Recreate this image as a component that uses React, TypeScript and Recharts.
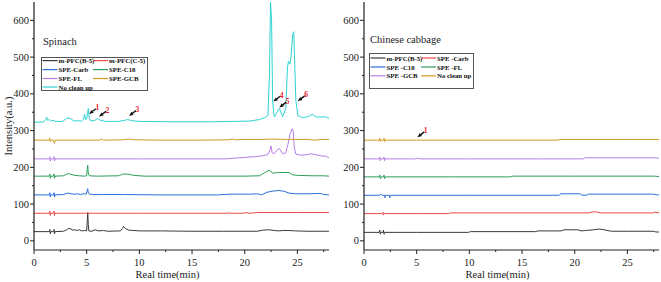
import React from 'react';
import { LineChart, Line, XAxis, YAxis, ReferenceDot, Legend } from 'recharts';

type P = [number, number];

// ---------- axis ticks ----------
const xTicks = [0, 2.5, 5, 7.5, 10, 12.5, 15, 17.5, 20, 22.5, 25, 27.5];
const yTicks = [0, 50, 100, 150, 200, 250, 300, 350, 400, 450, 500, 550, 600];
const xDomain = [0, 28];
const yDomain = [-25, 650];

// ---------- Spinach ----------
const spinachNames = ['m-PFC(B-5)', 'm-PFC(C-5)', 'SPE-Carb', 'SPE-C18', 'SPE-FL', 'SPE-GCB', 'No clean up'];

const spB5: P[] = [[0,25],[1.45,25],[1.5,31],[1.55,19],[1.6,25],[1.85,25],[1.9,31],[1.95,19],[2.0,25],[2.8,26],[3.1,30],[3.3,34],[3.5,32],[3.7,29],[3.9,30],[4.1,28],[4.3,30],[4.5,27],[4.8,28],[5.0,27],[5.05,50],[5.1,77],[5.15,45],[5.2,27],[5.5,26],[5.8,30],[6.1,27],[6.6,28],[7,26],[8.2,27],[8.4,33],[8.5,39],[8.7,33],[9.0,29],[9.5,28],[10,27],[12,27],[15,26],[18,26],[21.2,26],[21.7,29],[22.3,30],[22.8,28],[23.3,27],[23.6,28],[24.2,28],[24.8,27],[26,26],[28,26]];
const spC5: P[] = [[0,75],[1.45,75],[1.5,81],[1.55,69],[1.6,75],[1.85,75],[1.9,81],[1.95,69],[2.0,75],[5,75],[10,75],[15,75],[18.3,75],[18.5,76],[18.7,75],[19.8,75],[20.1,77],[20.4,75],[20.9,76],[21.1,77],[25,77],[28,77]];
const spCarb: P[] = [[0,125],[1.45,125],[1.5,131],[1.55,119],[1.6,125],[1.85,125],[1.9,131],[1.95,119],[2.0,125],[2.8,126],[3.2,130],[3.5,128],[3.8,127],[4.1,128],[4.4,126],[4.7,128],[4.95,127],[5.05,137],[5.1,142],[5.15,130],[5.3,127],[5.6,126],[6.5,126],[8.5,126],[11.5,125],[15,125],[17.5,125],[18.6,127],[20.5,127],[21.2,128],[21.6,125],[22.1,132],[22.6,135],[23.2,137],[23.7,135],[24.2,130],[24.8,128],[26,128],[27.2,129],[27.5,126],[28,125]];
const spC18: P[] = [[0,176],[1.45,176],[1.5,182],[1.55,170],[1.6,176],[1.85,176],[1.9,182],[1.95,170],[2.0,176],[2.8,177],[3.2,183],[3.5,181],[3.9,178],[4.3,177],[4.8,176],[5.0,177],[5.05,195],[5.1,206],[5.15,185],[5.25,177],[6,176],[8.0,177],[8.5,182],[9.0,181],[9.5,178],[10.5,176],[15,176],[20,176],[21.4,177],[22.0,187],[22.3,192],[22.7,184],[23.2,186],[23.7,186],[24.2,186],[24.5,180],[25,178],[26.5,177],[27.5,177],[28,176]];
const spFL: P[] = [[0,223],[1.45,223],[1.5,229],[1.55,217],[1.6,223],[1.85,223],[1.9,229],[1.95,217],[2.0,223],[10,223],[18.2,223],[19,225],[20,227],[21,229],[21.8,232],[22.2,235],[22.4,248],[22.5,258],[22.6,240],[22.8,237],[23.1,248],[23.3,251],[23.6,237],[23.9,240],[24.1,262],[24.3,290],[24.5,305],[24.6,300],[24.7,255],[24.85,236],[25.3,233],[25.8,234],[26.3,237],[26.8,234],[27.3,231],[27.7,230],[28,226]];
const spGCB: P[] = [[0,274],[1.45,274],[1.5,279],[1.55,270],[1.6,274],[1.85,274],[1.9,269],[1.95,265],[2.0,274],[4,274],[6.2,274],[6.4,277],[6.6,274],[8.5,275],[9.0,277],[9.5,275],[12,274],[16,274],[18.5,275],[18.8,277],[19.1,275],[20.3,276],[21.8,276],[22.5,277],[24,276],[26,276],[26.6,274],[27.3,276],[28,276]];
const spNone: P[] = [[0,323],[0.9,323],[1.1,330],[1.2,337],[1.3,328],[1.45,330],[1.6,326],[1.8,328],[2.0,325],[2.7,325],[3.0,331],[3.2,335],[3.5,332],[3.8,326],[4.2,327],[4.5,325],[4.7,331],[4.8,345],[4.9,330],[5.0,332],[5.1,350],[5.15,360],[5.25,333],[5.4,326],[5.8,328],[6.0,333],[6.3,328],[6.8,325],[8.0,325],[8.6,328],[8.9,330],[9.3,327],[10,325],[13,324],[17,324],[19,325],[20.5,326],[21.4,330],[21.9,335],[22.2,341],[22.35,450],[22.45,650],[22.55,600],[22.65,380],[22.8,337],[23.0,347],[23.3,360],[23.6,338],[23.9,360],[24.05,470],[24.15,489],[24.3,481],[24.4,503],[24.55,560],[24.65,569],[24.75,480],[24.85,382],[25.05,341],[25.5,335],[26.0,338],[26.4,344],[26.8,337],[27.3,337],[27.6,338],[28,333]];

const spinachSeries = [spB5, spC5, spCarb, spC18, spFL, spGCB, spNone];
const spinachMarks = [
  { n: '1', t: 5.22, v: 345 },
  { n: '2', t: 6.17, v: 338 },
  { n: '3', t: 9.02, v: 340 },
  { n: '4', t: 22.71, v: 379 },
  { n: '5', t: 23.28, v: 363 },
  { n: '6', t: 25.03, v: 380 },
];

// ---------- Chinese cabbage ----------
const cabbageNames = ['m-PFC(B-5)', 'SPE -Carb', 'SPE -C18', 'SPE -FL', 'SPE -GCB', 'No clean up'];

const cbB5: P[] = [[0,23],[1.45,23],[1.5,29],[1.55,18],[1.6,23],[1.8,23],[1.85,29],[1.9,18],[1.95,23],[5,23],[9.9,23],[10.1,25],[13,25],[16.3,25],[16.5,27],[18.7,27],[19,30],[20.3,30],[20.6,27],[21,28],[21.8,30],[22.3,32],[22.8,30],[23.3,27],[23.6,26],[25,26],[26.5,26],[27.5,26],[27.7,24],[28,24]];
const cbCarb: P[] = [[0,74],[1.7,74],[1.8,78],[1.85,70],[1.9,74],[5,74],[8.0,74],[8.2,76],[12,76],[16,76],[21.3,76],[21.8,79],[22.2,78],[22.4,76],[25,76],[27.4,76],[27.6,78],[28,76]];
const cbC18: P[] = [[0,124],[1.5,124],[1.6,127],[1.7,124],[1.95,124],[2.0,117],[2.05,124],[2.4,124],[2.45,117],[2.5,124],[10,124],[15,124],[18.5,124],[18.7,128],[20.5,128],[20.7,124],[21.1,124],[21.3,127],[27.5,127],[27.8,125],[28,125]];
const cbFL: P[] = [[0,174],[1.45,174],[1.5,179],[1.55,169],[1.6,174],[1.85,174],[1.9,179],[1.95,169],[2.0,174],[8,174],[13.9,174],[14.1,176],[20,176],[27.5,176],[28,175]];
const cbGCB: P[] = [[0,223],[1.45,223],[1.5,228],[1.55,218],[1.6,223],[1.85,223],[1.9,228],[1.95,218],[2.0,223],[4.9,223],[5.1,225],[5.3,223],[10,223],[17,223],[20.8,223],[21.0,226],[25,226],[27.5,226],[28,225]];
const cbNone: P[] = [[0,274],[1.45,274],[1.5,279],[1.55,270],[1.6,274],[1.85,274],[1.9,279],[1.95,270],[2.0,274],[5,274],[10,274],[18.4,274],[18.6,276],[25,276],[28,276]];

const cabbageSeries = [cbB5, cbCarb, cbC18, cbFL, cbGCB, cbNone];
const cabbageMarks = [{ n: '1', t: 5.06, v: 282 }];

// ---------- styles ----------
const C_BLACK = '#3a3a3a';
const C_RED = '#f2474c';
const C_BLUE = '#2b6fd8';
const C_GREEN = '#2e9e5a';
const C_PURPLE = '#b67ee6';
const C_GOLD = '#d39b1f';
const C_CYAN = '#2fd3d3';
const spinachColors = [C_BLACK, C_RED, C_BLUE, C_GREEN, C_PURPLE, C_GOLD, C_CYAN];
const cabbageColors = [C_BLACK, C_RED, C_BLUE, C_GREEN, C_PURPLE, C_GOLD];

const FONT = "'Liberation Serif', 'Times New Roman', serif";
const AX = '#222';

const toRows = (pts: P[]) => pts.map(([t, v]) => ({ t, v }));

const YTick = (props: any) => {
  const { x, y, payload } = props;
  const v = payload.value;
  const major = v % 100 === 0;
  return (
    <g>
      <line x1={x - (major ? 4 : 2)} x2={x} y1={y} y2={y} stroke={AX} strokeWidth={1} />
      {major && (
        <text x={x - 5} y={y} textAnchor="end" dominantBaseline="central" fontSize={10.5} fontFamily={FONT} fill={AX}>
          {v}
        </text>
      )}
    </g>
  );
};

const XTick = (props: any) => {
  const { x, y, payload } = props;
  const v = payload.value;
  const major = v % 5 === 0;
  return (
    <g>
      <line x1={x} x2={x} y1={y} y2={y + (major ? 4 : 2)} stroke={AX} strokeWidth={1} />
      {major && (
        <text x={x} y={y + 12.7} textAnchor="middle" dominantBaseline="central" fontSize={10.5} fontFamily={FONT} fill={AX}>
          {v}
        </text>
      )}
    </g>
  );
};

const ArrowMark = ({ cx, cy, n }: any) => {
  if (cx == null || cy == null) return null;
  const pts = `${cx},${cy} ${cx + 4.7},${cy - 1.3} ${cx + 2.5},${cy - 4.1}`;
  return (
    <g>
      <polygon points={pts} fill="#111" />
      <line x1={cx + 3.4} y1={cy - 2.6} x2={cx + 7} y2={cy - 5.3} stroke="#111" strokeWidth={1.4} />
      <text x={cx + 8.3} y={cy - 6.3} textAnchor="middle" dominantBaseline="central" fontSize={7.5} fontWeight="bold" fontFamily={FONT} fill="#e8202a">
        {n}
      </text>
    </g>
  );
};

const makeLegend = (names: string[], colors: string[], w: number, h: number, rowY: number[]) => () => (
  <svg width={w} height={h} style={{ display: 'block' }}>
    <rect x={0.5} y={0.5} width={w - 1} height={h - 1} fill="#fff" stroke="#555" strokeWidth={1} />
    {names.map((nm, i) => {
      const col = i % 2;
      const row = Math.floor(i / 2);
      const lx = col === 0 ? 1.5 : 52;
      const y = rowY[row];
      return (
        <g key={nm}>
          <line x1={lx} x2={lx + 15} y1={y} y2={y} stroke={colors[i]} strokeWidth={1.2} />
          <text x={lx + 16} y={y} dominantBaseline="central" fontSize={6.8} fontWeight="bold" fontFamily={FONT} fill="#111">
            {nm}
          </text>
        </g>
      );
    })}
  </svg>
);

const spinachLegend = makeLegend(spinachNames, spinachColors, 107, 34, [3.6, 12.6, 21.5, 30]);
const cabbageLegend = makeLegend(cabbageNames, cabbageColors, 105, 36, [5, 14, 22.8, 31]);

const XLabel = (props: any) => {
  const vb = props.viewBox || {};
  return (
    <text x={vb.x + vb.width / 2 - 14} y={274.5} textAnchor="middle" dominantBaseline="central" fontSize={10.5} fontFamily={FONT} fill={AX}>
      Real time(min)
    </text>
  );
};

const YLabel = (props: any) => {
  const vb = props.viewBox || {};
  const cy = vb.y + vb.height / 2;
  return (
    <text x={8.5} y={cy} transform={`rotate(-90 8.5 ${cy})`} textAnchor="middle" dominantBaseline="central" fontSize={10.5} fontFamily={FONT} fill={AX}>
      Intensity(a.u.)
    </text>
  );
};

const Panel = ({ series, names, colors, marks, legend, legendPos, width, withYLabel }: any) => (
  <LineChart width={width} height={282} margin={{ top: 2, right: width === 330 ? 1 : 2, bottom: 0, left: 0 }}>
    <XAxis
      type="number"
      dataKey="t"
      domain={xDomain}
      ticks={xTicks}
      interval={0}
      allowDataOverflow
      height={32}
      tickSize={0}
      tickMargin={0}
      tickLine={false}
      tick={<XTick />}
      axisLine={{ stroke: AX, strokeWidth: 1.2 }}
      label={{ content: <XLabel /> }}
    />
    <YAxis
      type="number"
      dataKey="v"
      domain={yDomain}
      ticks={yTicks}
      interval={0}
      allowDataOverflow
      width={34}
      tickSize={0}
      tickMargin={0}
      tickLine={false}
      tick={<YTick />}
      axisLine={{ stroke: AX, strokeWidth: 1.2 }}
      label={withYLabel ? { content: <YLabel /> } : undefined}
    />
    <Legend
      layout="horizontal"
      verticalAlign="middle"
      align="center"
      content={legend}
      wrapperStyle={{ left: legendPos.left, top: legendPos.top, width: legendPos.w, height: legendPos.h }}
    />
    {series.map((s: P[], i: number) => (
      <Line
        key={names[i]}
        data={toRows(s)}
        dataKey="v"
        name={names[i]}
        type="linear"
        stroke={colors[i]}
        strokeWidth={1}
        dot={false}
        activeDot={false}
        isAnimationActive={false}
      />
    ))}
    {marks.map((m: any) => (
      <ReferenceDot
        key={'m' + m.n + m.t}
        x={m.t}
        y={m.v}
        r={0}
        shape={(p: any) => <ArrowMark cx={p.cx} cy={p.cy} n={m.n} />}
      />
    ))}
  </LineChart>
);

export default function App() {
  return (
    <div style={{ position: 'absolute', left: 0, top: 0, width: 661, height: 282, background: '#fff' }}>
      <div style={{ position: 'absolute', left: 0, top: 0 }}>
        <Panel
          series={spinachSeries}
          names={spinachNames}
          colors={spinachColors}
          marks={spinachMarks}
          legend={spinachLegend}
          legendPos={{ left: 40.5, top: 57, w: 107, h: 34 }}
          width={330}
          withYLabel
        />
      </div>
      <div style={{ position: 'absolute', left: 330, top: 0 }}>
        <Panel
          series={cabbageSeries}
          names={cabbageNames}
          colors={cabbageColors}
          marks={cabbageMarks}
          legend={cabbageLegend}
          legendPos={{ left: 39.3, top: 53.3, w: 105, h: 36 }}
          width={331}
          withYLabel={false}
        />
      </div>
      <div style={{ position: 'absolute', left: 43, top: 35.5, fontFamily: FONT, fontSize: 10.5, lineHeight: '12px', color: '#222', whiteSpace: 'nowrap' }}>
        Spinach
      </div>
      <div style={{ position: 'absolute', left: 370, top: 34, fontFamily: FONT, fontSize: 10.5, lineHeight: '12px', color: '#222', whiteSpace: 'nowrap' }}>
        Chinese cabbage
      </div>
    </div>
  );
}
